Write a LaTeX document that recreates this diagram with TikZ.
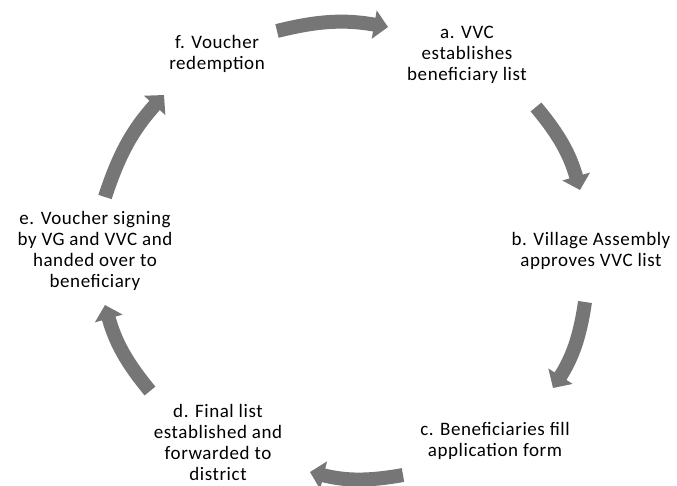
\documentclass[tikz,border=0pt]{standalone}
\usepackage{fontspec}
\setmainfont{Carlito}[LetterSpace=3]
\usetikzlibrary{arrows.meta}
\definecolor{Gr}{RGB}{118,118,118}

\begin{document}
\begin{tikzpicture}[x=1pt,y=-1pt,
    paso/.style={align=center,inner sep=0pt,font=\fontsize{19}{21}\selectfont},
    flecha/.style={draw=Gr,line width=14pt,-{Triangle[width=28pt,length=14pt]},bend left=12}]
    \useasboundingbox (0,0) rectangle (677,485);

    % los pasos del ciclo
    \node[paso] (a) at (467,55) {a. VVC\\establishes\\beneficiary list};
    \node[paso] (b) at (591,251) {b. Village Assembly\\approves VVC list};
    \node[paso] (c) at (495,441) {c. Beneficiaries fill\\application form};
    \node[paso] (d) at (218,442) {d. Final list\\established and\\forwarded to\\district};
    \node[paso] (e) at (95,251) {e. Voucher signing\\by VG and VVC and\\handed over to\\beneficiary};
    \node[paso] (f) at (217,54) {f. Voucher\\redemption};

    % extremos de las flechas
    \coordinate (fa1) at (277,31);  \coordinate (fa2) at (388,27);
    \coordinate (ab1) at (536,107); \coordinate (ab2) at (580,190);
    \coordinate (bc1) at (585,302); \coordinate (bc2) at (553,388);
    \coordinate (cd1) at (403,475); \coordinate (cd2) at (310,472);
    \coordinate (de1) at (150,391); \coordinate (de2) at (105,305);
    \coordinate (ef1) at (105,197); \coordinate (ef2) at (164,95);

    % flechas grises
    \draw[flecha] (fa1) to (fa2);
    \draw[flecha] (ab1) to (ab2);
    \draw[flecha] (bc1) to (bc2);
    \draw[flecha] (cd1) to (cd2);
    \draw[flecha] (de1) to (de2);
    \draw[flecha] (ef1) to (ef2);
\end{tikzpicture}
\end{document}
